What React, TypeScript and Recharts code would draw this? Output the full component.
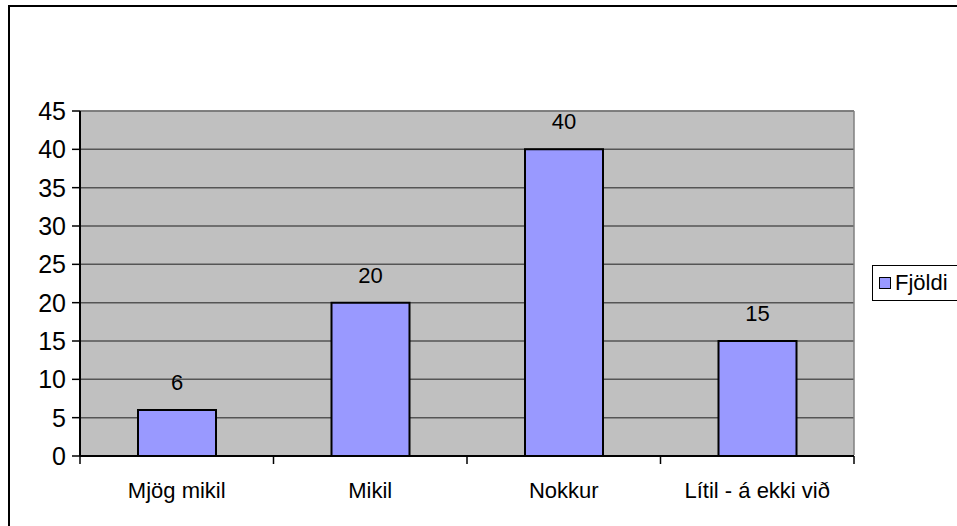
import { Bar, BarChart, CartesianGrid, LabelList, XAxis, YAxis } from 'recharts';

const categories = ['Mjög mikil', 'Mikil', 'Nokkur', 'Lítil - á ekki við'];
const counts = [6, 20, 40, 15];
const yTicks = [0, 5, 10, 15, 20, 25, 30, 35, 40, 45];
const seriesName = 'Fjöldi';

const data = categories.map((name, i) => ({ name, value: counts[i] }));

const font = '"Liberation Sans", Arial, sans-serif';

function CategoryTick(props: any) {
  const { x, y, payload, index } = props;
  const half = payload?.offset ?? 0;
  const last = index === categories.length - 1;
  return (
    <g>
      <line x1={x - half} y1={y - 2} x2={x - half} y2={y + 6} stroke="#000" strokeWidth={1.5} />
      {last && <line x1={x + half} y1={y - 2} x2={x + half} y2={y + 6} stroke="#000" strokeWidth={1.5} />}
      <text x={x} y={y + 40} textAnchor="middle" fill="#000" fontSize={22} fontFamily={font}>
        {payload.value}
      </text>
    </g>
  );
}

function LegendBox() {
  return (
    <div
      style={{
        position: 'absolute',
        left: 872,
        top: 265,
        border: '1px solid #000',
        background: '#fff',
        width: 100,
        height: 36,
        display: 'flex',
        alignItems: 'center',
        fontFamily: font,
        fontSize: 22,
        color: '#000',
        boxSizing: 'border-box',
        paddingLeft: 6,
      }}
    >
      <span
        style={{
          display: 'inline-block',
          width: 10,
          height: 10,
          background: '#9999FF',
          border: '1.5px solid #000',
          marginRight: 4,
        }}
      />
      {seriesName}
    </div>
  );
}

export default function App() {
  return (
    <div style={{ position: 'absolute', left: 0, top: 0, width: 957, height: 526, overflow: 'hidden', background: '#fff' }}>
      <div
        style={{
          position: 'absolute',
          left: 8,
          top: 5,
          width: 1000,
          height: 600,
          borderLeft: '2px solid #000',
          borderTop: '2px solid #000',
        }}
      />
      <div style={{ position: 'absolute', left: 0, top: 0 }}>
        <BarChart
          width={957}
          height={526}
          data={data}
          margin={{ top: 111, right: 103, bottom: 36, left: 30 }}
          barSize={78}
        >
          <CartesianGrid vertical={false} stroke="#555" strokeWidth={1.5} fill="#C0C0C0" />
          <XAxis
            dataKey="name"
            height={34}
            interval={0}
            tickSize={0}
            tickLine={false}
            axisLine={{ stroke: '#000', strokeWidth: 2 }}
            tick={<CategoryTick />}
          />
          <YAxis
            domain={[0, 45]}
            ticks={yTicks}
            width={50}
            interval={0}
            tickSize={8}
            axisLine={{ stroke: '#000', strokeWidth: 2 }}
            tickLine={{ stroke: '#000', strokeWidth: 1.5 }}
            tick={{ fill: '#000', fontSize: 25, fontFamily: font, dx: -4 }}
          />
          <Bar
            dataKey="value"
            name={seriesName}
            fill="#9999FF"
            stroke="#000"
            strokeWidth={2}
            isAnimationActive={false}
          >
            <LabelList dataKey="value" position="top" offset={20} fill="#000" fontSize={22} fontFamily={font} />
          </Bar>
          <line x1={854} y1={111} x2={854} y2={455} stroke="#808080" strokeWidth={1.5} />
          <line x1={80} y1={111} x2={854} y2={111} stroke="#808080" strokeWidth={1.5} />
        </BarChart>
      </div>
      <LegendBox />
    </div>
  );
}
